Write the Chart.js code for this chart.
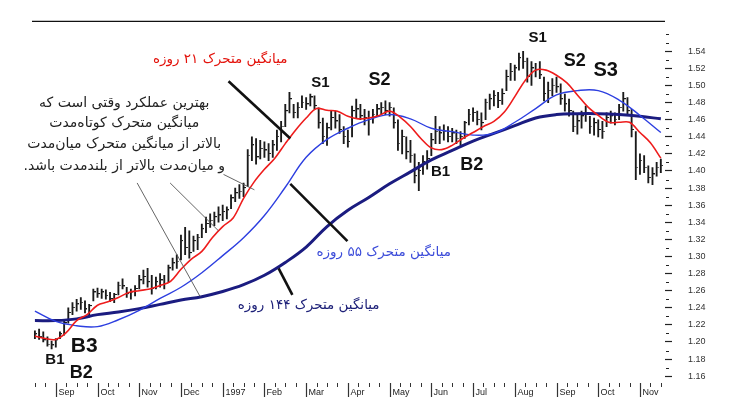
<!DOCTYPE html>
<html>
<head>
<meta charset="utf-8">
<script src="https://cdn.jsdelivr.net/npm/chart.js@4.4.1/dist/chart.umd.min.js"></script>
<style>
  body { margin: 0; background: #fff; }
  #wrap { width: 742px; height: 409px; }
</style>
</head>
<body>
<div id="wrap"><canvas id="chart" width="742" height="409"></canvas></div>
<script>
'use strict';

// x unit = months, 0 = start of Sep 1996
var barStart = -0.5;
var barStep = 0.1;

var highs = [
  1.213, 1.215, 1.212, 1.206, 1.201, 1.204, 1.212, 1.225, 1.240, 1.246,
  1.250, 1.252, 1.248, 1.244, 1.262, 1.263, 1.262, 1.261, 1.258, 1.257,
  1.270, 1.274, 1.264, 1.262, 1.266, 1.278, 1.284, 1.286, 1.278, 1.276,
  1.280, 1.278, 1.290, 1.298, 1.302, 1.325, 1.334, 1.330, 1.324, 1.326,
  1.338, 1.346, 1.350, 1.352, 1.358, 1.360, 1.358, 1.372, 1.380, 1.384,
  1.386, 1.425, 1.440, 1.438, 1.436, 1.434, 1.432, 1.436, 1.448, 1.458,
  1.478, 1.492, 1.478, 1.480, 1.488, 1.486, 1.490, 1.488, 1.474, 1.462,
  1.456, 1.470, 1.470, 1.466, 1.452, 1.448, 1.476, 1.484, 1.478, 1.472,
  1.470, 1.472, 1.478, 1.480, 1.482, 1.480, 1.474, 1.460, 1.448, 1.440,
  1.436, 1.420, 1.410, 1.418, 1.424, 1.444, 1.464, 1.452, 1.454, 1.452,
  1.450, 1.448, 1.446, 1.458, 1.472, 1.474, 1.470, 1.468, 1.484, 1.490,
  1.494, 1.492, 1.496, 1.518, 1.526, 1.524, 1.538, 1.540, 1.532, 1.528,
  1.526, 1.528, 1.510, 1.504, 1.508, 1.510, 1.502, 1.490, 1.484, 1.470,
  1.466, 1.470, 1.476, 1.464, 1.462, 1.460, 1.458, 1.468, 1.470, 1.468,
  1.478, 1.492, 1.486, 1.472, 1.446, 1.420, 1.418, 1.406, 1.404, 1.410, 1.414
];
var lows = [
  1.204, 1.203, 1.200, 1.195, 1.192, 1.194, 1.204, 1.208, 1.222, 1.232,
  1.236, 1.238, 1.234, 1.229, 1.248, 1.252, 1.251, 1.250, 1.247, 1.246,
  1.255, 1.262, 1.252, 1.250, 1.254, 1.262, 1.268, 1.264, 1.256, 1.262,
  1.264, 1.262, 1.270, 1.284, 1.286, 1.296, 1.302, 1.298, 1.306, 1.308,
  1.322, 1.328, 1.334, 1.336, 1.340, 1.342, 1.344, 1.356, 1.364, 1.368,
  1.370, 1.382, 1.412, 1.408, 1.414, 1.416, 1.412, 1.416, 1.424, 1.434,
  1.452, 1.468, 1.462, 1.462, 1.474, 1.472, 1.476, 1.472, 1.450, 1.432,
  1.430, 1.448, 1.450, 1.444, 1.432, 1.428, 1.440, 1.462, 1.460, 1.454,
  1.442, 1.456, 1.464, 1.466, 1.466, 1.464, 1.450, 1.424, 1.420, 1.414,
  1.410, 1.386, 1.377, 1.396, 1.402, 1.418, 1.432, 1.432, 1.436, 1.434,
  1.434, 1.432, 1.430, 1.438, 1.454, 1.458, 1.454, 1.448, 1.460, 1.472,
  1.476, 1.474, 1.478, 1.494, 1.506, 1.506, 1.518, 1.520, 1.504, 1.500,
  1.510, 1.508, 1.482, 1.480, 1.488, 1.492, 1.478, 1.470, 1.464, 1.446,
  1.443, 1.450, 1.458, 1.444, 1.442, 1.440, 1.438, 1.452, 1.456, 1.454,
  1.460, 1.470, 1.466, 1.440, 1.390, 1.396, 1.398, 1.386, 1.384, 1.394, 1.398
];
var closes = [
  1.209, 1.206, 1.202, 1.197, 1.196, 1.202, 1.209, 1.222, 1.234, 1.240,
  1.244, 1.246, 1.238, 1.242, 1.258, 1.256, 1.258, 1.254, 1.250, 1.255,
  1.266, 1.265, 1.256, 1.258, 1.262, 1.272, 1.276, 1.270, 1.262, 1.270,
  1.272, 1.268, 1.286, 1.292, 1.294, 1.318, 1.310, 1.304, 1.318, 1.322,
  1.332, 1.338, 1.342, 1.346, 1.348, 1.352, 1.354, 1.368, 1.374, 1.376,
  1.380, 1.418, 1.430, 1.416, 1.426, 1.424, 1.420, 1.430, 1.440, 1.452,
  1.470, 1.484, 1.468, 1.474, 1.480, 1.478, 1.486, 1.476, 1.456, 1.440,
  1.450, 1.462, 1.458, 1.448, 1.440, 1.434, 1.470, 1.472, 1.464, 1.462,
  1.460, 1.466, 1.472, 1.474, 1.470, 1.474, 1.456, 1.432, 1.440, 1.422,
  1.418, 1.394, 1.400, 1.410, 1.414, 1.436, 1.446, 1.444, 1.446, 1.440,
  1.444, 1.438, 1.440, 1.456, 1.466, 1.468, 1.460, 1.456, 1.480, 1.484,
  1.488, 1.482, 1.490, 1.510, 1.516, 1.520, 1.532, 1.528, 1.510, 1.520,
  1.518, 1.512, 1.490, 1.494, 1.500, 1.498, 1.484, 1.478, 1.470, 1.452,
  1.458, 1.464, 1.466, 1.452, 1.456, 1.448, 1.446, 1.462, 1.464, 1.460,
  1.474, 1.484, 1.470, 1.448, 1.404, 1.412, 1.404, 1.392, 1.396, 1.404, 1.406
];

// moving averages
var ma21Step = 0.25;
var ma21 = [
  1.207, 1.204, 1.203, 1.211, 1.225, 1.232, 1.243, 1.247, 1.252, 1.258,
  1.260, 1.262, 1.266, 1.271, 1.285, 1.297, 1.306, 1.322, 1.335, 1.345,
  1.368, 1.387, 1.402, 1.415, 1.432, 1.448, 1.462, 1.473, 1.471, 1.470,
  1.464, 1.461, 1.462, 1.465, 1.470, 1.463, 1.452, 1.438, 1.427, 1.425,
  1.430, 1.438, 1.445, 1.452, 1.458, 1.469, 1.487, 1.506, 1.518, 1.518,
  1.512, 1.503, 1.489, 1.475, 1.465, 1.457, 1.457, 1.457, 1.445, 1.433,
  1.415
];
var maStep = 0.5;
var ma55 = [
  1.236, 1.224, 1.219, 1.218, 1.226, 1.237, 1.251, 1.264, 1.281, 1.301,
  1.322, 1.348, 1.381, 1.416, 1.437, 1.450, 1.460, 1.466, 1.461, 1.450,
  1.446, 1.442, 1.444, 1.457, 1.473, 1.489, 1.494, 1.494, 1.483, 1.465,
  1.445
];
var ma144 = [
  1.225, 1.225, 1.227, 1.232, 1.235, 1.239, 1.244, 1.249, 1.253, 1.259,
  1.267, 1.278, 1.293, 1.311, 1.335, 1.354, 1.369, 1.385, 1.399, 1.413,
  1.424, 1.435, 1.444, 1.453, 1.462, 1.466, 1.467, 1.467, 1.466, 1.464,
  1.461
];

var months = ['Sep', 'Oct', 'Nov', 'Dec', '1997', 'Feb', 'Mar', 'Apr',
  'May', 'Jun', 'Jul', 'Aug', 'Sep', 'Oct', 'Nov'];
var priceTicks = [1.16, 1.18, 1.20, 1.22, 1.24, 1.26, 1.28, 1.30, 1.32, 1.34,
  1.36, 1.38, 1.40, 1.42, 1.44, 1.46, 1.48, 1.50, 1.52, 1.54];

// annotations (x in months, y in price)
var waveNames = ['S1', 'S2', 'B1', 'B2', 'S1', 'S2', 'S3', 'B1', 'B3', 'B2'];
var waveX = [6.34, 7.76, 9.22, 9.97, 11.55, 12.44, 13.18, -0.02, 0.68, 0.61];
var waveY = [1.503, 1.506, 1.399, 1.407, 1.556, 1.529, 1.518, 1.179, 1.195, 1.164];
var waveSize = [15, 18, 15, 18, 15, 18, 20, 15, 21, 18];

var maNames = ['میانگین متحرک ۲۱ روزه', 'میانگین متحرک ۵۵ روزه', 'میانگین متحرک ۱۴۴ روزه'];
var noteText = [
  'بهترین عملکرد وقتی است که',
  'میانگین متحرک کوتاه\u200cمدت',
  'بالاتر از میانگین متحرک میان\u200cمدت',
  'و میان\u200cمدت بالاتر از بلندمدت باشد.'
];

function seq (arr, start, step) {
  var out = [];
  for (var i = 0; i < arr.length; i++) {
    out.push({x: start + i * step, y: arr[i]});
  }
  return out;
}

var barData = [];
for (var i = 0; i < highs.length; i++) {
  barData.push({x: barStart + i * barStep, y: [lows[i], highs[i]]});
}

// small right-hand tick for the close
var closeTick = document.createElement('canvas');
closeTick.width = 5;
closeTick.height = 2;
var tctx = closeTick.getContext('2d');
tctx.fillStyle = '#1a1a1a';
tctx.fillRect(3, 0, 2, 1);

var decor = {
  id: 'decor',
  afterDraw: function (chart) {
    var ctx = chart.ctx;
    var xs = chart.scales.x;
    var ys = chart.scales.y;
    var a = chart.chartArea;
    function px (v) { return xs.getPixelForValue(v); }
    function py (v) { return ys.getPixelForValue(v); }

    ctx.save();

    // top rule
    ctx.strokeStyle = '#111';
    ctx.lineWidth = 1.3;
    ctx.beginPath();
    ctx.moveTo(a.left, a.top);
    ctx.lineTo(a.right, a.top);
    ctx.stroke();

    // minor price ticks
    ctx.lineWidth = 1;
    ctx.strokeStyle = '#222';
    var minors = [];
    for (var k = 0; k < priceTicks.length - 1; k++) {
      minors.push((priceTicks[k] + priceTicks[k + 1]) / 2);
    }
    minors.push(1.55, 1.56);
    minors.forEach(function (v) {
      var y = Math.round(py(v)) + 0.5;
      ctx.beginPath();
      ctx.moveTo(a.right + 1, y);
      ctx.lineTo(a.right + 4, y);
      ctx.stroke();
    });

    // month axis
    ctx.strokeStyle = '#333';
    ctx.fillStyle = '#222';
    ctx.font = '9px Arial';
    ctx.textAlign = 'left';
    ctx.textBaseline = 'alphabetic';
    for (var m = -1; m < months.length; m++) {
      if (m >= 0) {
        var mx = Math.round(px(m)) + 0.5;
        ctx.lineWidth = 1.2;
        ctx.beginPath();
        ctx.moveTo(mx, a.bottom);
        ctx.lineTo(mx, a.bottom + 14);
        ctx.stroke();
        ctx.fillText(months[m], mx + 2, a.bottom + 12);
      }
      for (var w = 1; w < 4; w++) {
        var wv = m + w * 0.25;
        if (wv < xs.min || wv > xs.max) continue;
        var wx = Math.round(px(wv)) + 0.5;
        ctx.lineWidth = 1;
        ctx.beginPath();
        ctx.moveTo(wx, a.bottom);
        ctx.lineTo(wx, a.bottom + 4);
        ctx.stroke();
      }
    }

    // pointer lines
    function seg (x1, y1, x2, y2, width, color) {
      ctx.strokeStyle = color;
      ctx.lineWidth = width;
      ctx.beginPath();
      ctx.moveTo(px(x1), py(y1));
      ctx.lineTo(px(x2), py(y2));
      ctx.stroke();
    }
    seg(4.14, 1.505, 5.62, 1.438, 2.6, '#111');
    seg(5.62, 1.385, 6.99, 1.318, 2.6, '#111');
    seg(5.34, 1.286, 5.67, 1.255, 2.6, '#111');
    seg(4.02, 1.396, 4.76, 1.378, 0.9, '#555');
    seg(2.74, 1.386, 3.90, 1.330, 0.9, '#555');
    seg(1.95, 1.386, 3.46, 1.253, 0.9, '#555');

    // wave labels
    ctx.fillStyle = '#111';
    ctx.textAlign = 'center';
    ctx.textBaseline = 'middle';
    for (var n = 0; n < waveNames.length; n++) {
      ctx.font = 'bold ' + waveSize[n] + 'px Arial';
      ctx.fillText(waveNames[n], px(waveX[n]), py(waveY[n]));
    }

    // persian labels
    ctx.direction = 'rtl';
    ctx.font = '13.5px "DejaVu Sans"';
    ctx.fillStyle = '#e3120b';
    ctx.fillText(maNames[0], px(3.94), py(1.531));
    ctx.fillStyle = '#3b4bd9';
    ctx.fillText(maNames[1], px(7.86), py(1.305));
    ctx.fillStyle = '#1d2078';
    ctx.fillText(maNames[2], px(6.06), py(1.243));

    ctx.fillStyle = '#222';
    ctx.font = '14px "DejaVu Sans"';
    var noteY = [1.479, 1.456, 1.431, 1.406];
    for (var t = 0; t < noteText.length; t++) {
      ctx.fillText(noteText[t], px(1.64), py(noteY[t]));
    }

    ctx.restore();
  }
};

var chart = new Chart(document.getElementById('chart').getContext('2d'), {
  type: 'bar',
  data: {
    datasets: [
      {
        type: 'line',
        data: seq(ma21, barStart, ma21Step),
        borderColor: '#ee1c1c',
        borderWidth: 1.6,
        pointRadius: 0,
        tension: 0.35,
        order: 1
      },
      {
        type: 'line',
        data: seq(ma55, barStart, maStep),
        borderColor: '#2d3fe0',
        borderWidth: 1.4,
        pointRadius: 0,
        tension: 0.4,
        order: 2
      },
      {
        type: 'line',
        data: seq(ma144, barStart, maStep),
        borderColor: '#1b1c80',
        borderWidth: 3,
        pointRadius: 0,
        tension: 0.4,
        order: 3
      },
      {
        type: 'scatter',
        data: seq(closes, barStart, barStep),
        pointStyle: closeTick,
        pointRadius: 2,
        order: 4
      },
      {
        type: 'bar',
        data: barData,
        backgroundColor: '#1a1a1a',
        borderWidth: 0,
        barThickness: 1.2,
        order: 5
      }
    ]
  },
  options: {
    responsive: false,
    animation: false,
    devicePixelRatio: 1,
    layout: { padding: { left: 32, top: 10, bottom: 26, right: 32 } },
    plugins: { legend: { display: false }, tooltip: { enabled: false } },
    scales: {
      x: { type: 'linear', min: -0.57, max: 14.6, offset: false, display: false },
      y: {
        position: 'right',
        min: 1.152,
        max: 1.575,
        afterBuildTicks: function (scale) {
          scale.ticks = priceTicks.map(function (v) { return {value: v}; });
        },
        afterFit: function (scale) { scale.width = 45; },
        border: { display: false },
        grid: { drawOnChartArea: false, drawTicks: true, tickLength: 7, tickColor: '#222', tickWidth: 1.2 },
        ticks: {
          padding: 16,
          color: '#333',
          font: { family: 'Arial', size: 9 },
          callback: function (v) { return v.toFixed(2); }
        }
      }
    }
  },
  plugins: [decor]
});
</script>
</body>
</html>
